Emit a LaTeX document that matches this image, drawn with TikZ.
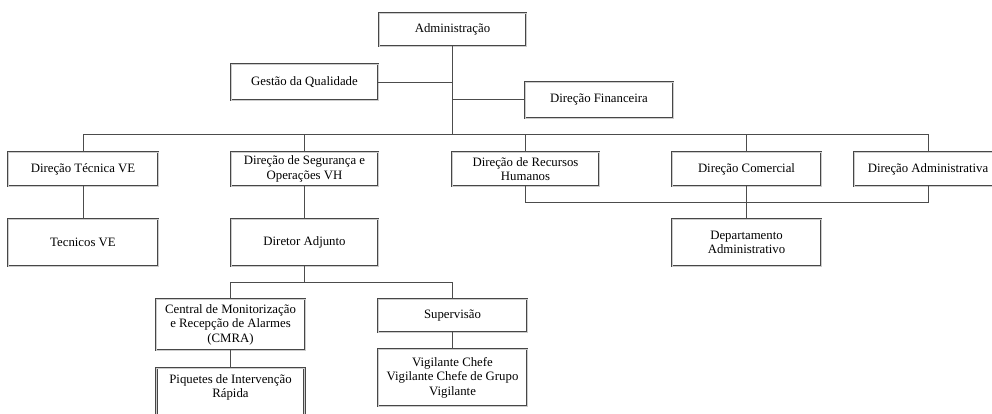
\documentclass[tikz,border=0pt]{standalone}
\usepackage{fontspec}
\setmainfont{Liberation Serif}
\begin{document}
\begin{tikzpicture}[x=1pt,y=-1pt,
  box/.style={draw=black!72, line width=0.9pt, double=black!20, double distance=0.9pt,
    fill=white, align=center, inner sep=1pt,
    font=\fontsize{12.8}{14.5}\selectfont},
  conn/.style={draw=black!70, line width=0.8pt}]
\clip (0,0) rectangle (992,414);
\fill[white] (0,0) rectangle (992,414);
% nodes
\node[box, minimum width=147pt, minimum height=33pt] (adm) at (452.5,29.5) {Administração};
\node[box, minimum width=147pt, minimum height=36pt] (gq) at (304.5,82) {Gestão da Qualidade};
\node[box, minimum width=148pt, minimum height=36pt] (df) at (599,100) {Direção Financeira};
\node[box, minimum width=150pt, minimum height=34pt] (dtec) at (83,169) {Direção Técnica VE};
\node[box, minimum width=147pt, minimum height=34pt] (dseg) at (304.5,169) {Direção de Segurança e\\Operações VH};
\node[box, minimum width=147pt, minimum height=34pt] (drh) at (525.5,169) {Direção de Recursos\\Humanos};
\node[box, minimum width=149pt, minimum height=34pt] (dcom) at (746.5,169) {Direção Comercial};
\node[box, minimum width=148pt, minimum height=34pt] (dadm) at (928,169) {Direção Administrativa};
\node[box, minimum width=150pt, minimum height=47pt] (tec) at (83,242.5) {Tecnicos VE};
\node[box, minimum width=147pt, minimum height=47pt] (dadj) at (304.5,242.5) {Diretor Adjunto};
\node[box, minimum width=149pt, minimum height=47pt] (depadm) at (746.5,242.5) {Departamento\\Administrativo};
\node[box, minimum width=149pt, minimum height=51pt] (cmra) at (230.5,324.5) {Central de Monitorização\\e Recepção de Alarmes\\(CMRA)};
\node[box, minimum width=149pt, minimum height=33pt] (sup) at (452.5,315.5) {Supervisão};
\node[box, minimum width=148pt, minimum height=54pt, text depth=18pt] (piq) at (230.5,395) {Piquetes de Intervenção\\Rápida};
\node[box, minimum width=149pt, minimum height=57pt] (vig) at (452.5,377.5) {Vigilante Chefe\\Vigilante Chefe de Grupo\\Vigilante};
% coordinates
\coordinate (bus) at (452.5,134);
\coordinate (gqj) at (452.5,82);
\coordinate (dfj) at (452.5,99);
\coordinate (low) at (0,202);
\coordinate (adjbus) at (0,282);
% connectors
\draw[conn] (adm.south) -- (bus);
\draw[conn] (gq.east) -- (gqj);
\draw[conn] (dfj) -- (df.west |- dfj);
\draw[conn] (dtec.north) -- (dtec |- bus) -- (dadm |- bus) -- (dadm.north);
\draw[conn] (dseg.north) -- (dseg |- bus);
\draw[conn] (drh.north) -- (drh |- bus);
\draw[conn] (dcom.north) -- (dcom |- bus);
\draw[conn] (dtec.south) -- (tec.north);
\draw[conn] (dseg.south) -- (dadj.north);
\draw[conn] (drh.south) -- (drh |- low) -- (dadm |- low) -- (dadm.south);
\draw[conn] (dcom.south) -- (depadm.north);
\draw[conn] (dadj.south) -- (dadj |- adjbus);
\draw[conn] (cmra.north) -- (cmra |- adjbus) -- (sup |- adjbus) -- (sup.north);
\draw[conn] (cmra.south) -- (piq.north);
\draw[conn] (sup.south) -- (vig.north);
\end{tikzpicture}
\end{document}
